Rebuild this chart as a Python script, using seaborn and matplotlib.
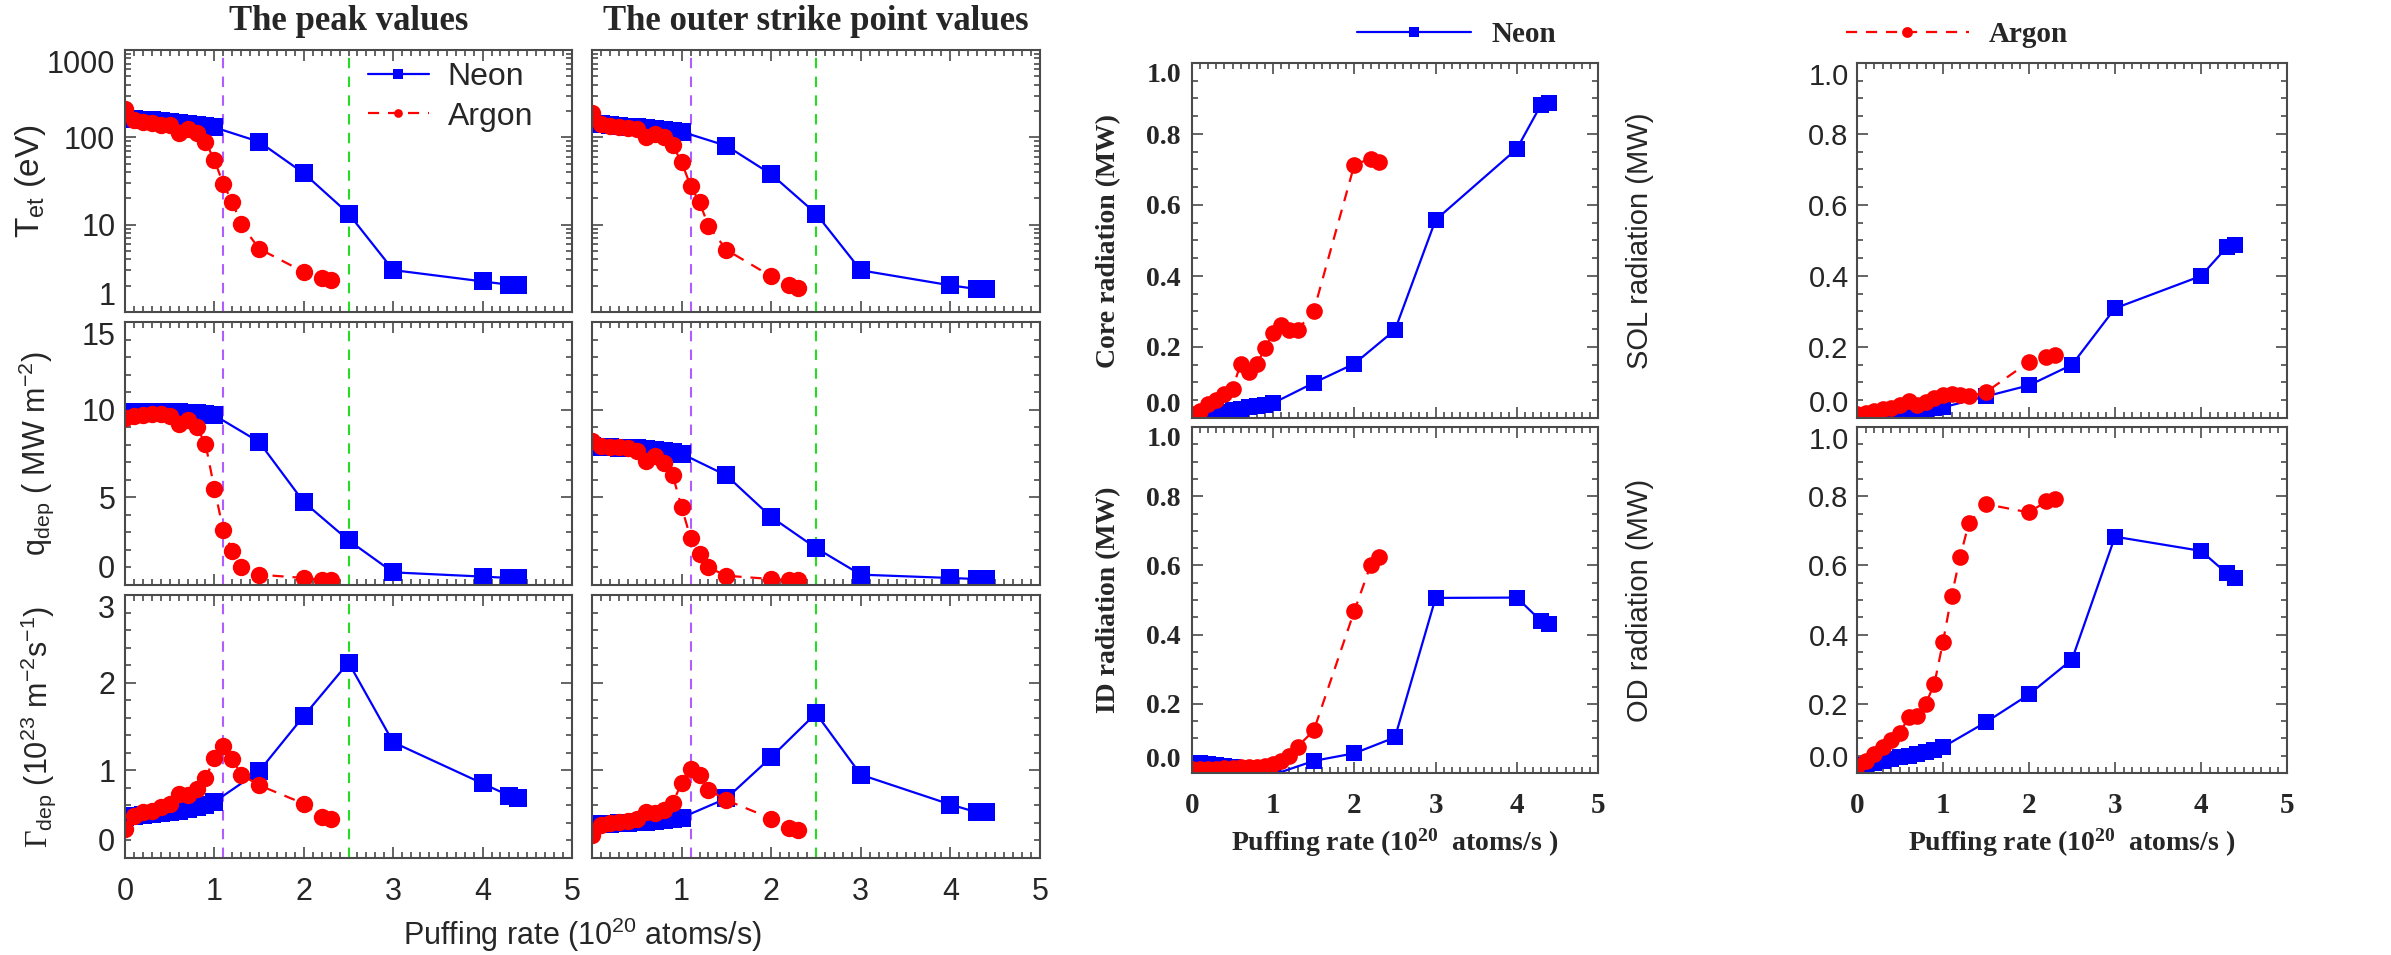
import matplotlib
matplotlib.use("Agg")
import matplotlib.pyplot as plt
import seaborn as sns
import numpy as np
from matplotlib.ticker import MultipleLocator, NullFormatter, LogLocator, FixedLocator

# ---------------- data ----------------
x_neon = [0.0, 0.1, 0.2, 0.3, 0.4, 0.5, 0.6, 0.7, 0.8, 0.9, 1.0, 1.5, 2.0, 2.5, 3.0, 4.0, 4.3, 4.4]
x_argon = [0.0, 0.1, 0.2, 0.3, 0.4, 0.5, 0.6, 0.7, 0.8, 0.9, 1.0, 1.1, 1.2, 1.3, 1.5, 2.0, 2.2, 2.3]

te_peak_ne = [165, 163, 160, 157, 153, 150, 146, 142, 138, 134, 130, 89, 38.8, 13.4, 3.02, 2.24, 2.05, 2.05]
te_peak_ar = [209, 158, 150, 145, 140, 138, 113, 126, 113, 89, 55, 29, 18.2, 10.1, 5.3, 2.87, 2.45, 2.32]
te_osp_ne = [145, 142, 139, 136, 133, 130, 127, 124, 121, 118, 116, 80, 37.8, 13.4, 3.0, 2.02, 1.83, 1.83]
te_osp_ar = [192, 142, 136, 132, 128, 123, 102, 108, 100, 81, 52, 27.8, 18, 9.7, 5.15, 2.56, 2.05, 1.86]

q_peak_ne = [9.85, 9.87, 9.88, 9.88, 9.87, 9.86, 9.85, 9.83, 9.8, 9.75, 9.68, 8.16, 4.73, 2.55, 0.72, 0.48, 0.4, 0.4]
q_peak_ar = [9.52, 9.66, 9.71, 9.77, 9.73, 9.66, 9.18, 9.43, 9.01, 8.06, 5.49, 3.12, 1.96, 1.05, 0.59, 0.4, 0.3, 0.3]
q_osp_ne = [7.9, 7.88, 7.86, 7.84, 7.82, 7.8, 7.76, 7.72, 7.66, 7.58, 7.49, 6.25, 3.88, 2.11, 0.59, 0.4, 0.34, 0.34]
q_osp_ar = [8.19, 7.9, 7.87, 7.87, 7.81, 7.66, 7.09, 7.34, 6.96, 6.27, 4.45, 2.68, 1.77, 1.0, 0.53, 0.34, 0.27, 0.27]

g_peak_ne = [0.47, 0.48, 0.49, 0.5, 0.51, 0.53, 0.54, 0.56, 0.58, 0.6, 0.64, 0.99, 1.62, 2.23, 1.32, 0.85, 0.71, 0.69]
g_peak_ar = [0.33, 0.48, 0.52, 0.54, 0.58, 0.62, 0.73, 0.72, 0.79, 0.91, 1.14, 1.28, 1.13, 0.95, 0.83, 0.62, 0.47, 0.44]
g_osp_ne = [0.38, 0.385, 0.39, 0.395, 0.4, 0.405, 0.41, 0.42, 0.43, 0.44, 0.46, 0.68, 1.15, 1.65, 0.95, 0.61, 0.52, 0.52]
g_osp_ar = [0.26, 0.38, 0.40, 0.41, 0.42, 0.44, 0.52, 0.51, 0.55, 0.63, 0.85, 1.02, 0.95, 0.78, 0.66, 0.45, 0.34, 0.32]

core_ne = [0.0, 0.005, 0.01, 0.014, 0.018, 0.022, 0.026, 0.03, 0.034, 0.038, 0.042, 0.099, 0.153, 0.248, 0.558, 0.758, 0.883, 0.886]
core_ar = [0.012, 0.02, 0.039, 0.052, 0.069, 0.083, 0.153, 0.13, 0.153, 0.196, 0.24, 0.262, 0.248, 0.248, 0.302, 0.714, 0.73, 0.72]
sol_ne = [0.0, 0.003, 0.006, 0.009, 0.012, 0.015, 0.018, 0.021, 0.024, 0.027, 0.03, 0.061, 0.092, 0.15, 0.309, 0.40, 0.481, 0.488]
sol_ar = [0.012, 0.014, 0.02, 0.024, 0.029, 0.036, 0.047, 0.036, 0.045, 0.055, 0.064, 0.069, 0.064, 0.061, 0.073, 0.158, 0.172, 0.177]
id_ne = [0.03, 0.028, 0.025, 0.022, 0.02, 0.017, 0.014, 0.01, 0.006, 0.002, -0.005, 0.035, 0.057, 0.103, 0.506, 0.507, 0.439, 0.432]
id_ar = [0.012, 0.012, 0.013, 0.013, 0.014, 0.015, 0.016, 0.016, 0.018, 0.02, 0.025, 0.035, 0.05, 0.076, 0.123, 0.469, 0.601, 0.623]
od_ne = [0.016, 0.022, 0.028, 0.034, 0.04, 0.045, 0.05, 0.055, 0.06, 0.066, 0.075, 0.147, 0.227, 0.328, 0.683, 0.642, 0.577, 0.565]
od_ar = [0.021, 0.036, 0.055, 0.074, 0.094, 0.115, 0.163, 0.166, 0.2, 0.258, 0.379, 0.512, 0.625, 0.722, 0.777, 0.753, 0.785, 0.792]

threshold_lines = [1.1, 2.5]
threshold_colors = ["#B05CFF", "#22DD22"]

left_titles = ["The peak values", "The outer strike point values"]
series_names = ["Neon", "Argon"]

# ---------------- style ----------------
sns.set_style("ticks")
plt.rcParams["font.family"] = ["Liberation Sans", "DejaVu Sans"]
plt.rcParams["mathtext.fontset"] = "custom"
plt.rcParams["mathtext.rm"] = "Liberation Serif"
plt.rcParams["mathtext.default"] = "regular"

SERIF = "Liberation Serif"
BLUE = "#0000FF"
RED = "#FF0000"
FRAME = "#4a4a4a"

W, H = 2391, 955
fig = plt.figure(figsize=(W / 100, H / 100), dpi=100)


def box(x0, x1, y0, y1):
    return [x0 / W, 1 - y1 / H, (x1 - x0) / W, (y1 - y0) / H]


def style_axes(ax, xminor=0.1):
    for s in ax.spines.values():
        s.set_color(FRAME)
        s.set_linewidth(1.5)
    ax.tick_params(which="both", direction="in", top=True, right=True, color=FRAME, width=1.2)
    ax.tick_params(which="major", length=8)
    ax.tick_params(which="minor", length=4)
    ax.xaxis.set_major_locator(MultipleLocator(1))
    ax.xaxis.set_minor_locator(MultipleLocator(xminor))
    ax.set_xlim(0, 5)


def draw_pair(ax, y_ne, y_ar, ms_sq, ms_ci):
    sns.lineplot(x=x_neon, y=y_ne, ax=ax, color=BLUE, marker="s", markersize=ms_sq,
                 markeredgewidth=0, linewidth=1.6, legend=False, label=series_names[0])
    sns.lineplot(x=x_argon, y=y_ar, ax=ax, color=RED, marker="o", markersize=ms_ci,
                 markeredgewidth=0, linewidth=1.6, legend=False, label=series_names[1])
    ax.lines[-1].set_dashes((5, 4))
    ax.set_xlabel("")
    ax.set_ylabel("")


def edge_labels(ax):
    labs = ax.get_yticklabels()
    labs[0].set_va("bottom")
    labs[-1].set_va("top")


# ---------------- left group ----------------
LX = [(125, 572), (592, 1040)]
LY = [(50, 312), (322, 585), (595, 858)]

left_data = [
    [(te_peak_ne, te_peak_ar), (te_osp_ne, te_osp_ar)],
    [(q_peak_ne, q_peak_ar), (q_osp_ne, q_osp_ar)],
    [(g_peak_ne, g_peak_ar), (g_osp_ne, g_osp_ar)],
]
left_axes = []
for r in range(3):
    for c in range(2):
        ax = fig.add_axes(box(LX[c][0], LX[c][1], LY[r][0], LY[r][1]))
        left_axes.append(ax)
        yn, ya = left_data[r][c]
        draw_pair(ax, yn, ya, 13, 12.5)
        style_axes(ax)
        for xv, col in zip(threshold_lines, threshold_colors):
            ax.axvline(xv, color=col, lw=1.5, dashes=(5, 4), zorder=1)
        if r == 0:
            ax.set_yscale("log")
            ax.set_ylim(1, 1000)
            ax.yaxis.set_major_locator(FixedLocator([1, 10, 100, 1000]))
            ax.yaxis.set_minor_locator(LogLocator(base=10, subs=np.arange(2, 10)))
            ax.yaxis.set_minor_formatter(NullFormatter())
            ax.set_yticks([1, 10, 100, 1000], ["1", "10", "100", "1000"])
        elif r == 1:
            ax.set_ylim(0, 15)
            ax.set_yticks([0, 5, 10, 15], ["0", "5", "10", "15"])
            ax.yaxis.set_minor_locator(MultipleLocator(1))
        else:
            ax.set_ylim(0, 3)
            ax.set_yticks([0, 1, 2, 3], ["0", "1", "2", "3"])
            ax.yaxis.set_minor_locator(MultipleLocator(0.2))
        ax.tick_params(axis="y", labelsize=22, pad=7)
        ax.tick_params(axis="x", labelsize=22, pad=14)
        if c == 1:
            ax.tick_params(axis="y", labelleft=False)
        else:
            edge_labels(ax)
        if r < 2:
            ax.tick_params(axis="x", labelbottom=False)
        else:
            if c == 0:
                ax.set_xticks([0, 1, 2, 3, 4, 5], ["0", "1", "2", "3", "4", "5"])
            else:
                ax.set_xticks([0, 1, 2, 3, 4, 5], ["", "1", "2", "3", "4", "5"])

# titles
for c in range(2):
    fig.text((LX[c][0] + LX[c][1]) / 2 / W, 1 - 22 / H, left_titles[c], ha="center", va="center",
             fontsize=25, fontweight="bold", family=SERIF)

# left legend
h_ne, h_ar = left_axes[0].lines[0], left_axes[0].lines[1]
fig.legend([h_ne, h_ar], series_names, loc="upper left", bbox_to_anchor=(368 / W, 1 - 62 / H),
           frameon=False, fontsize=23, handlelength=1.9, handletextpad=0.6, labelspacing=0.3,
           borderpad=0, borderaxespad=0, markerscale=0.5)

# left y labels
fig.text(30 / W, 1 - (LY[0][0] + LY[0][1]) / 2 / H, "T$_{et}$ (eV)", rotation=90, ha="center",
         va="center", fontsize=24)
fig.text(36 / W, 1 - (LY[1][0] + LY[1][1]) / 2 / H, "q$_{dep}$ ( MW m$^{-2}$)", rotation=90,
         ha="center", va="center", fontsize=22)
fig.text(38 / W, 1 - (LY[2][0] + LY[2][1]) / 2 / H, r"$\mathrm{\Gamma}_{dep}$ (10$^{23}$ m$^{-2}$s$^{-1}$)",
         rotation=90, ha="center", va="center", fontsize=22)
fig.text((LX[0][0] + LX[1][1]) / 2 / W, 1 - 935 / H, "Puffing rate (10$^{20}$ atoms/s)",
         ha="center", va="center", fontsize=22)

# ---------------- right group ----------------
RX = [(1192, 1598), (1857, 2287)]
RY = [(63, 418), (427, 773)]
right_data = [[(core_ne, core_ar), (sol_ne, sol_ar)], [(id_ne, id_ar), (od_ne, od_ar)]]
right_ylabels = [["Core radiation (MW)", "SOL radiation (MW)"], ["ID radiation (MW)", "OD radiation (MW)"]]
right_label_x = [1109, 1640]
right_axes = []
for r in range(2):
    for c in range(2):
        ax = fig.add_axes(box(RX[c][0], RX[c][1], RY[r][0], RY[r][1]))
        right_axes.append(ax)
        yn, ya = right_data[r][c]
        draw_pair(ax, yn, ya, 11.5, 12)
        style_axes(ax)
        ax.set_ylim(0, 1.0)
        ax.set_yticks([0, 0.2, 0.4, 0.6, 0.8, 1.0], ["0.0", "0.2", "0.4", "0.6", "0.8", "1.0"])
        ax.yaxis.set_minor_locator(MultipleLocator(0.05))
        ax.set_xticks([0, 1, 2, 3, 4, 5], ["0", "1", "2", "3", "4", "5"])
        if c == 0:
            ax.tick_params(axis="y", pad=8)
            for t in ax.get_yticklabels():
                t.set_fontfamily(SERIF)
                t.set_fontweight("bold")
                t.set_fontsize(20)
        else:
            ax.tick_params(axis="y", pad=6, labelsize=21)
        edge_labels(ax)
        if r == 0:
            ax.tick_params(axis="x", labelbottom=False)
        else:
            ax.tick_params(axis="x", pad=14)
            for t in ax.get_xticklabels():
                t.set_fontfamily(SERIF)
                t.set_fontweight("bold")
                t.set_fontsize(21)
            fig.text((RX[c][0] + RX[c][1]) / 2 / W, 1 - 843 / H, "Puffing rate (10$^{20}$  atoms/s )",
                     ha="center", va="center", fontsize=20, fontweight="bold", family=SERIF)
        yc = 1 - (RY[r][0] + RY[r][1]) / 2 / H
        if c == 0:
            fig.text(right_label_x[c] / W, yc, right_ylabels[r][c], rotation=90, ha="center", va="center",
                     fontsize=20, fontweight="bold", family=SERIF)
        else:
            fig.text(right_label_x[c] / W, yc, right_ylabels[r][c], rotation=90, ha="center", va="center",
                     fontsize=21)

# right legends
rh_ne, rh_ar = right_axes[0].lines[0], right_axes[0].lines[1]
fig.legend([rh_ne], [series_names[0]], loc="center left", bbox_to_anchor=(1357 / W, 1 - 35 / H),
           frameon=False, handlelength=3.9, handletextpad=0.7, borderpad=0, borderaxespad=0,
           markerscale=0.65, prop={"family": SERIF, "weight": "bold", "size": 21})
fig.legend([rh_ar], [series_names[1]], loc="center left", bbox_to_anchor=(1846 / W, 1 - 35 / H),
           frameon=False, handlelength=4.2, handletextpad=0.7, borderpad=0, borderaxespad=0,
           markerscale=0.65, prop={"family": SERIF, "weight": "bold", "size": 21})

fig.savefig("out.png", dpi=100)
